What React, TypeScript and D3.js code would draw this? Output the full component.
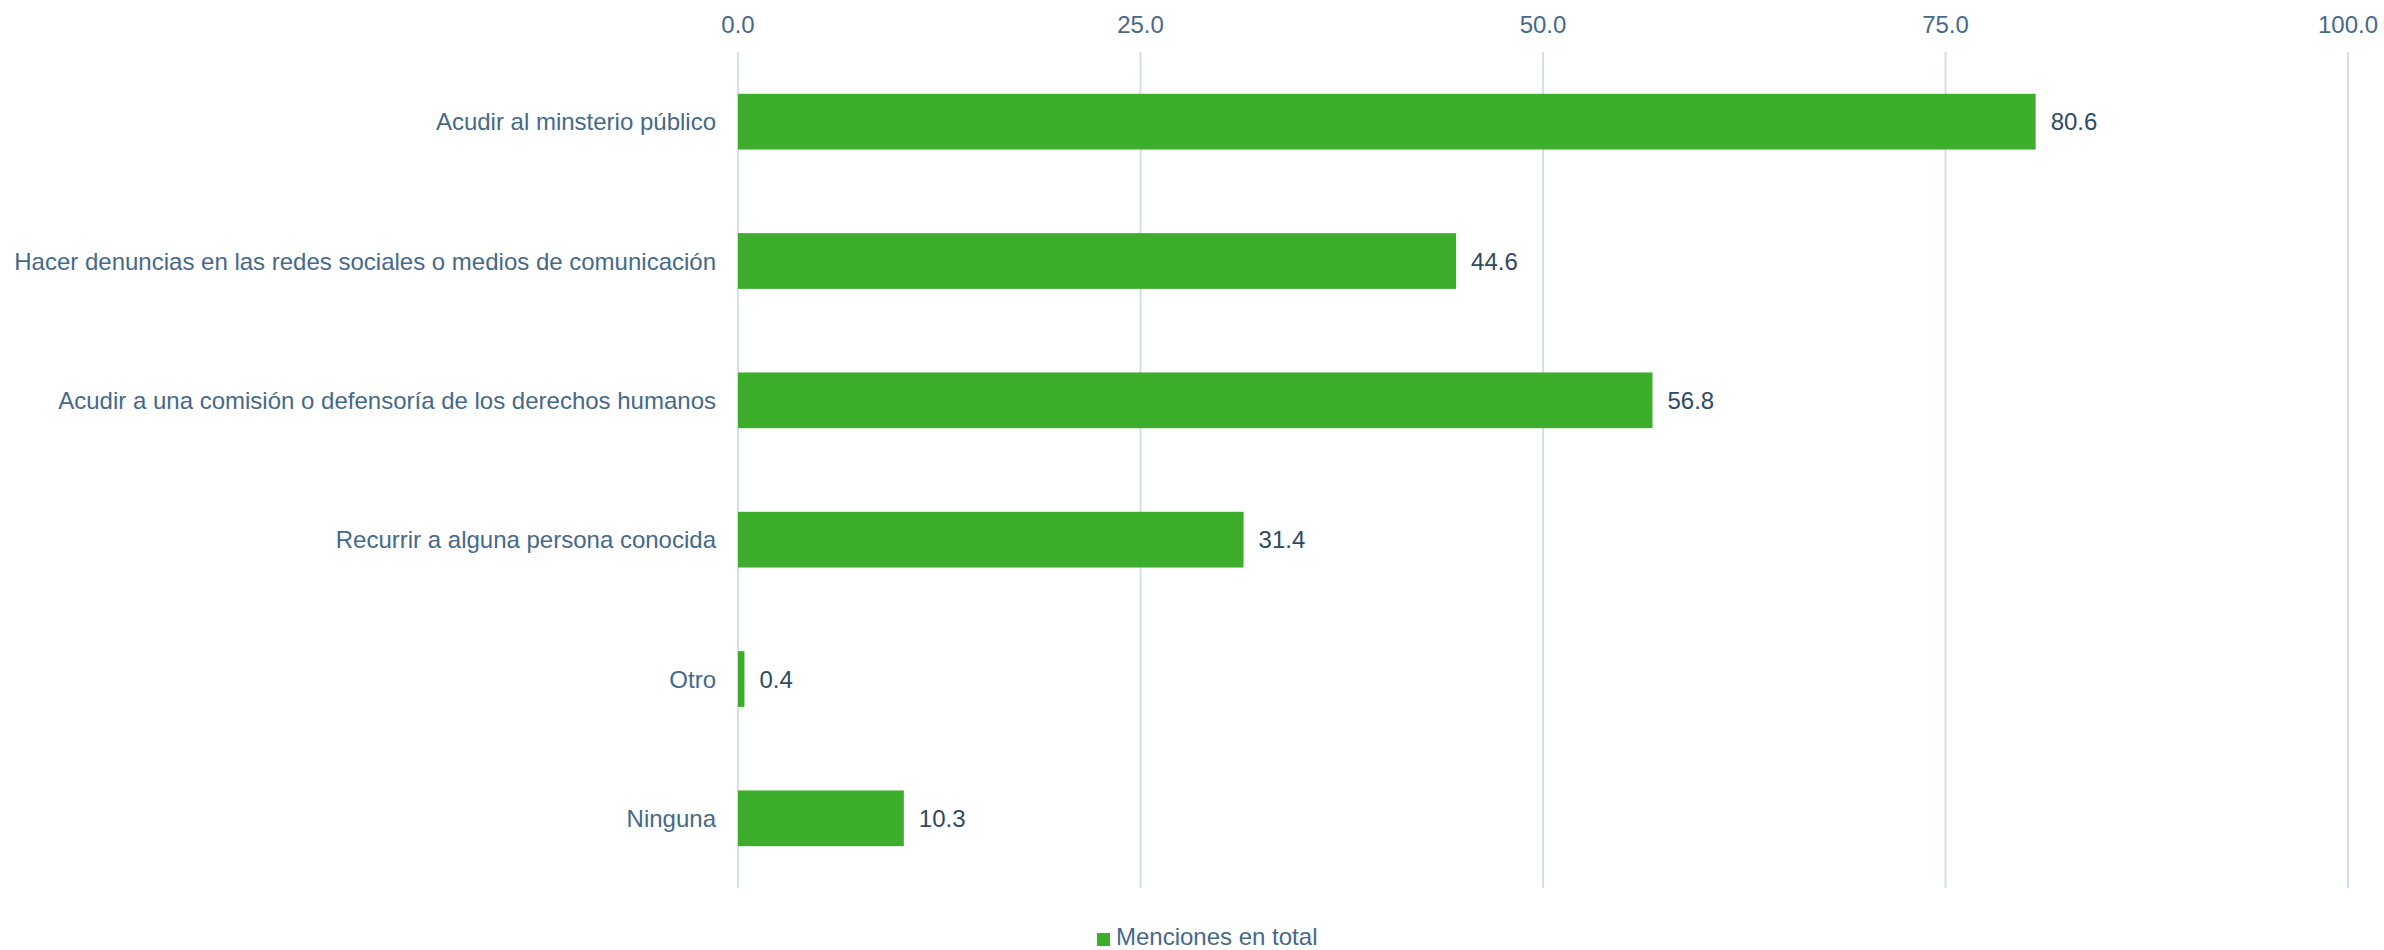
import React from "react";
import * as d3 from "d3";

const categories = [
  "Acudir al minsterio público",
  "Hacer denuncias en las redes sociales o medios de comunicación",
  "Acudir a una comisión o defensoría de los derechos humanos",
  "Recurrir a alguna persona conocida",
  "Otro",
  "Ninguna",
];
const values = [80.6, 44.6, 56.8, 31.4, 0.4, 10.3];
const ticks = [0, 25, 50, 75, 100];
const seriesName = "Menciones en total";

const W = 2384;
const H = 950;
const left = 738;
const right = 2348;
const top = 52;
const bottom = 888;
const font = "'Liberation Sans', Arial, sans-serif";
const labelColor = "#46698a";
const valueColor = "#2e4a63";
const green = "#3dae2b";
const grid = "#d3e0ea";
const fs = 24;

export default function App() {
  const x = d3.scaleLinear().domain([0, 100]).range([left, right]);
  const y = d3.scaleBand<string>().domain(categories).range([top, bottom]).paddingInner(0.6).paddingOuter(0.3);
  return (
    <svg width={W} height={H} style={{ position: "absolute", left: 0, top: 0 }} fontFamily={font}>
      {ticks.map((t) => (
        <g key={t}>
          <line x1={x(t)} x2={x(t)} y1={top} y2={bottom} stroke={grid} strokeWidth={2} />
          <text x={x(t)} y={24} textAnchor="middle" dominantBaseline="central" fontSize={fs} fill={labelColor}>
            {d3.format(".1f")(t)}
          </text>
        </g>
      ))}
      {categories.map((c, i) => {
        const yy = y(c)!;
        const bw = y.bandwidth();
        return (
          <g key={c}>
            <rect x={x(0)} y={yy} width={x(values[i]) - x(0)} height={bw} fill={green} />
            <text x={left - 22} y={yy + bw / 2} textAnchor="end" dominantBaseline="central" fontSize={fs} fill={labelColor}>
              {c}
            </text>
            <text x={x(values[i]) + 15} y={yy + bw / 2} dominantBaseline="central" fontSize={fs} fill={valueColor}>
              {d3.format(".1f")(values[i])}
            </text>
          </g>
        );
      })}
      <rect x={1097} y={933} width={13} height={13} fill={green} />
      <text x={1116} y={936} dominantBaseline="central" fontSize={fs} fill={labelColor}>
        {seriesName}
      </text>
    </svg>
  );
}
